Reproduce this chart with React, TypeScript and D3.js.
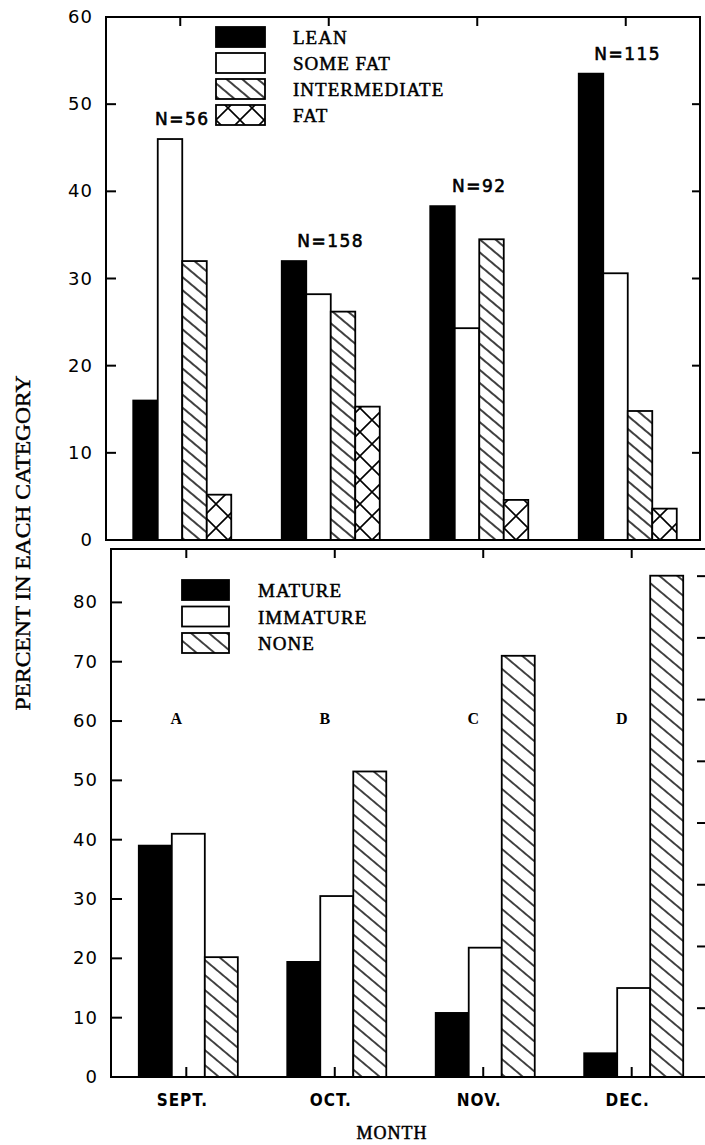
import React, { useEffect, useRef } from 'react';
import * as d3 from 'd3';

const months = ['SEPT.', 'OCT.', 'NOV.', 'DEC.'];

// upper panel - fat condition
const fatCategories = ['LEAN', 'SOME FAT', 'INTERMEDIATE', 'FAT'];
const lean = [16, 32, 38.3, 53.5];
const someFat = [46, 28.2, 24.3, 30.6];
const intermediate = [32, 26.2, 34.5, 14.8];
const fat = [5.2, 15.3, 4.6, 3.6];
const sampleSizes = ['N=56', 'N=158', 'N=92', 'N=115'];
const topTicks = [0, 10, 20, 30, 40, 50, 60];

// lower panel - gonad condition
const gonadCategories = ['MATURE', 'IMMATURE', 'NONE'];
const mature = [39, 19.4, 10.8, 4];
const immature = [41, 30.5, 21.8, 15];
const none = [20.2, 51.5, 71, 84.5];
const panelLetters = ['A', 'B', 'C', 'D'];
const bottomTicks = [0, 10, 20, 30, 40, 50, 60, 70, 80];

const SERIF = "'Liberation Serif', 'DejaVu Serif', serif";
const SANS = "'DejaVu Sans', 'Liberation Sans', sans-serif";

const App = () => {
    const svgRef = useRef<SVGSVGElement | null>(null);

    useEffect(() => {
        if (!svgRef.current) return;
        const svg = d3.select(svgRef.current);
        svg.selectAll('*').remove();

        const defs = svg.append('defs');
        const hatch = (id: string, gap: number, angle: number) => {
            const p = defs.append('pattern')
                .attr('id', id)
                .attr('patternUnits', 'userSpaceOnUse')
                .attr('width', 40)
                .attr('height', gap)
                .attr('patternTransform', `rotate(${angle})`);
            p.append('rect').attr('width', 40).attr('height', gap).attr('fill', 'white');
            p.append('line').attr('x1', 0).attr('x2', 40).attr('y1', gap / 2).attr('y2', gap / 2)
                .attr('stroke', '#000').attr('stroke-width', 1.6);
        };
        hatch('hatchTop', 10, 40);
        hatch('hatchBottom', 11.5, 40);

        const cross = (id: string, size: number) => {
            const p = defs.append('pattern')
                .attr('id', id)
                .attr('patternUnits', 'userSpaceOnUse')
                .attr('width', size)
                .attr('height', size);
            p.append('rect').attr('width', size).attr('height', size).attr('fill', 'white');
            p.append('path').attr('d', `M0,0L${size},${size}M${size},0L0,${size}`)
                .attr('stroke', '#000').attr('stroke-width', 1.6).attr('fill', 'none');
        };
        cross('crossHatch', 24);

        const labelStyle = (sel: any, size: number) => sel
            .style('font-family', SERIF)
            .style('font-size', `${size}px`)
            .style('letter-spacing', '1px')
            .attr('stroke', '#000')
            .attr('stroke-width', 0.5);

        // ---------- upper panel ----------
        const tx = d3.scaleBand<string>().domain(months).range([108, 702]).paddingInner(0.34).paddingOuter(0.17);
        const ty = d3.scaleLinear().domain([0, 60]).range([540, 17]);
        const tInner = d3.scaleBand<string>().domain(fatCategories).range([0, tx.bandwidth()]);
        const topSeries = [lean, someFat, intermediate, fat];
        const topFills = ['#000', '#fff', 'url(#hatchTop)', 'url(#crossHatch)'];

        const top = svg.append('g');
        fatCategories.forEach((cat, ci) => {
            top.selectAll(`rect.t${ci}`)
                .data(topSeries[ci])
                .enter()
                .append('rect')
                .attr('x', (d, i) => (tx(months[i]) as number) + (tInner(cat) as number))
                .attr('y', d => ty(d))
                .attr('width', tInner.bandwidth())
                .attr('height', d => ty(0) - ty(d))
                .attr('fill', topFills[ci])
                .attr('stroke', '#000')
                .attr('stroke-width', 1.8);
        });

        top.selectAll('text.n')
            .data(sampleSizes)
            .enter()
            .append('text')
            .attr('x', (d, i) => (tx(months[i]) as number) + tx.bandwidth() / 2)
            .attr('y', (d, i) => ty(Math.max(lean[i], someFat[i], intermediate[i], fat[i])) - 14)
            .attr('text-anchor', 'middle')
            .style('font-family', SANS)
            .style('font-size', '17px')
            .style('letter-spacing', '1.5px')
            .attr('stroke', '#000')
            .attr('stroke-width', 0.6)
            .text(d => d);

        // frame
        top.append('rect')
            .attr('x', 106).attr('y', ty(60))
            .attr('width', 700 - 106).attr('height', ty(0) - ty(60))
            .attr('fill', 'none').attr('stroke', '#000').attr('stroke-width', 2);

        topTicks.forEach(t => {
            if (t > 0 && t < 60) {
                top.append('line').attr('x1', 106).attr('x2', 116).attr('y1', ty(t)).attr('y2', ty(t))
                    .attr('stroke', '#000').attr('stroke-width', 2);
                top.append('line').attr('x1', 700).attr('x2', 692).attr('y1', ty(t)).attr('y2', ty(t))
                    .attr('stroke', '#000').attr('stroke-width', 2);
            }
            top.append('text')
                .attr('x', 93).attr('y', ty(t) + 6)
                .attr('text-anchor', 'end')
                .style('font-family', SANS)
                .style('font-size', '18px')
                .style('letter-spacing', '1px')
                .text(t);
        });
        months.forEach(m => {
            const cx = (tx(m) as number) + tx.bandwidth() / 2 - 2;
            top.append('line').attr('x1', cx).attr('x2', cx).attr('y1', ty(60)).attr('y2', ty(60) + 9)
                .attr('stroke', '#000').attr('stroke-width', 2);
        });

        // legend
        const tLeg = top.append('g');
        fatCategories.forEach((cat, i) => {
            const y = 27 + i * 26;
            tLeg.append('rect').attr('x', 216).attr('y', y).attr('width', 49).attr('height', 20)
                .attr('fill', topFills[i]).attr('stroke', '#000').attr('stroke-width', 1.8);
            labelStyle(tLeg.append('text').attr('x', 293).attr('y', y + 17), 19).text(cat);
        });

        // ---------- lower panel ----------
        const bx = d3.scaleBand<string>().domain(months).range([114, 708]).paddingInner(0.333).paddingOuter(0.167);
        const by = d3.scaleLinear().domain([0, 89]).range([1077, 549]);
        const byRight = d3.scaleLinear().domain([-1.15, 84.4]).range([1077, 549]);
        const bInner = d3.scaleBand<string>().domain(gonadCategories).range([0, bx.bandwidth()]);
        const bottomSeries = [mature, immature, none];
        const bottomFills = ['#000', '#fff', 'url(#hatchBottom)'];

        const bot = svg.append('g');
        gonadCategories.forEach((cat, ci) => {
            bot.selectAll(`rect.b${ci}`)
                .data(bottomSeries[ci])
                .enter()
                .append('rect')
                .attr('x', (d, i) => (bx(months[i]) as number) + (bInner(cat) as number))
                .attr('y', d => by(d))
                .attr('width', bInner.bandwidth())
                .attr('height', d => by(0) - by(d))
                .attr('fill', bottomFills[ci])
                .attr('stroke', '#000')
                .attr('stroke-width', 1.8);
        });

        bot.selectAll('text.letter')
            .data(panelLetters)
            .enter()
            .append('text')
            .attr('x', (d, i) => (bx(months[i]) as number) + bx.bandwidth() / 2 - 12)
            .attr('y', by(59.5))
            .attr('text-anchor', 'middle')
            .style('font-family', SERIF)
            .style('font-weight', 'bold')
            .style('font-size', '16px')
            .text(d => d);

        // axes lines (no right border)
        bot.append('path')
            .attr('d', `M705,${by(89)}H111V${by(0)}H705`)
            .attr('fill', 'none').attr('stroke', '#000').attr('stroke-width', 2);

        bottomTicks.forEach(t => {
            if (t > 0) {
                bot.append('line').attr('x1', 111).attr('x2', 122).attr('y1', by(t)).attr('y2', by(t))
                    .attr('stroke', '#000').attr('stroke-width', 2);
                bot.append('line').attr('x1', 697).attr('x2', 705).attr('y1', byRight(t)).attr('y2', byRight(t))
                    .attr('stroke', '#000').attr('stroke-width', 2);
            }
            bot.append('text')
                .attr('x', 98).attr('y', by(t) + 6)
                .attr('text-anchor', 'end')
                .style('font-family', SANS)
                .style('font-size', '18px')
                .style('letter-spacing', '1px')
                .text(t);
        });
        months.forEach(m => {
            const cx = (bx(m) as number) + bx.bandwidth() / 2 - 2;
            bot.append('line').attr('x1', cx).attr('x2', cx).attr('y1', by(89)).attr('y2', by(89) + 9)
                .attr('stroke', '#000').attr('stroke-width', 2);
            bot.append('line').attr('x1', cx).attr('x2', cx).attr('y1', by(0)).attr('y2', by(0) - 10)
                .attr('stroke', '#000').attr('stroke-width', 2);
            bot.append('text')
                .attr('x', cx - 4).attr('y', by(0) + 29)
                .attr('text-anchor', 'middle')
                .style('font-family', "'DejaVu Sans Condensed', 'DejaVu Sans', sans-serif")
                .style('font-weight', 'bold')
                .style('font-size', '17px')
                .style('letter-spacing', '1px')
                .text(m);
        });

        // legend
        const bLeg = bot.append('g');
        gonadCategories.forEach((cat, i) => {
            const y = 580 + i * 26.5;
            bLeg.append('rect').attr('x', 182).attr('y', y).attr('width', 47).attr('height', 20)
                .attr('fill', bottomFills[i]).attr('stroke', '#000').attr('stroke-width', 1.8);
            labelStyle(bLeg.append('text').attr('x', 258).attr('y', y + 17), 19).text(cat);
        });

        // titles
        svg.append('text')
            .attr('transform', 'translate(30,543) rotate(-90)')
            .attr('text-anchor', 'middle')
            .attr('textLength', 335)
            .attr('lengthAdjust', 'spacingAndGlyphs')
            .style('font-family', SERIF)
            .style('font-size', '20px')
            .attr('stroke', '#000')
            .attr('stroke-width', 0.4)
            .text('PERCENT IN EACH CATEGORY');

        labelStyle(svg.append('text')
            .attr('x', 392).attr('y', 1139)
            .attr('text-anchor', 'middle'), 18)
            .text('MONTH');
    }, []);

    return (
        <svg
            ref={svgRef}
            width={705}
            height={1145}
            style={{ position: 'absolute', left: 0, top: 0, background: '#fff' }}
        />
    );
};

export default App;
